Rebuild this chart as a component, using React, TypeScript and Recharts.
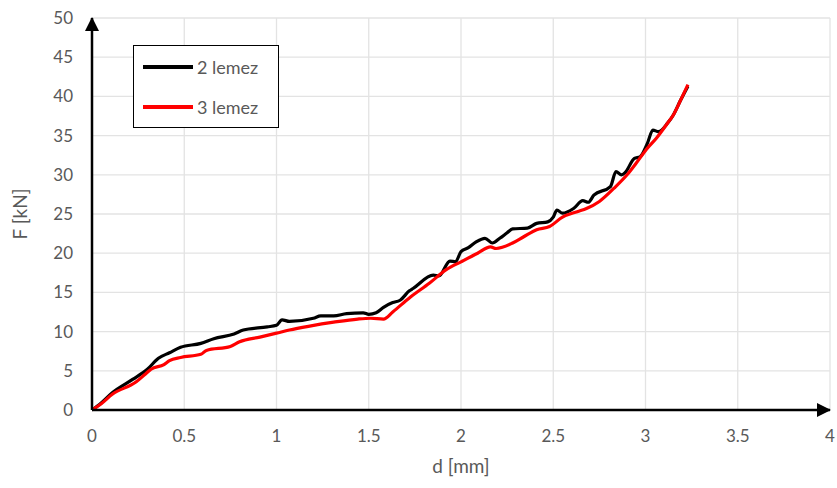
import React from 'react';
import {
  LineChart,
  Line,
  XAxis,
  YAxis,
  CartesianGrid,
  Label,
} from 'recharts';

// 2 lemez
const dispTwo = [0, 0.05, 0.11, 0.22, 0.3, 0.36, 0.42, 0.48, 0.59, 0.66, 0.77, 0.82, 0.95, 1.0, 1.03, 1.07, 1.2, 1.24, 1.31, 1.38, 1.47, 1.5, 1.54, 1.58, 1.63, 1.67, 1.72, 1.74, 1.85, 1.88, 1.94, 1.97, 2.0, 2.04, 2.08, 2.13, 2.17, 2.21, 2.25, 2.28, 2.36, 2.41, 2.47, 2.5, 2.52, 2.55, 2.61, 2.66, 2.69, 2.72, 2.81, 2.84, 2.87, 2.89, 2.94, 2.97, 3.01, 3.04, 3.07, 3.12, 3.15, 3.19, 3.23];
const forceTwo = [0, 0.9, 2.2, 3.9, 5.2, 6.6, 7.3, 8.0, 8.5, 9.1, 9.7, 10.2, 10.6, 10.8, 11.5, 11.3, 11.7, 12.0, 12.0, 12.3, 12.4, 12.2, 12.4, 13.1, 13.7, 14.0, 15.2, 15.5, 17.2, 17.1, 19.0, 18.9, 20.2, 20.7, 21.4, 21.9, 21.3, 21.9, 22.6, 23.1, 23.2, 23.8, 24.0, 24.6, 25.5, 25.1, 25.7, 26.7, 26.5, 27.4, 28.5, 30.4, 30.0, 30.3, 32.1, 32.3, 34.0, 35.7, 35.5, 36.6, 37.6, 39.5, 41.3];

// 3 lemez
const dispThree = [0, 0.05, 0.11, 0.24, 0.29, 0.32, 0.39, 0.42, 0.48, 0.59, 0.62, 0.75, 0.8, 0.91, 1.0, 1.07, 1.18, 1.31, 1.44, 1.51, 1.58, 1.63, 1.72, 1.83, 1.92, 2.0, 2.09, 2.16, 2.19, 2.28, 2.34, 2.41, 2.48, 2.55, 2.63, 2.68, 2.75, 2.83, 2.9, 2.95, 3.01, 3.06, 3.12, 3.15, 3.19, 3.23];
const forceThree = [0, 0.8, 2.0, 3.6, 4.6, 5.2, 5.8, 6.3, 6.7, 7.1, 7.6, 8.1, 8.7, 9.3, 9.8, 10.2, 10.7, 11.2, 11.6, 11.7, 11.6, 12.5, 14.3, 16.2, 17.9, 18.9, 20.0, 20.8, 20.6, 21.3, 22.1, 23.0, 23.4, 24.6, 25.3, 25.7, 26.6, 28.3, 30.0, 31.5, 33.4, 34.7, 36.6, 37.6, 39.5, 41.5];

const xTicks = [0, 0.5, 1, 1.5, 2, 2.5, 3, 3.5, 4];
const yTicks = [0, 5, 10, 15, 20, 25, 30, 35, 40, 45, 50];

const seriesNames = ['2 lemez', '3 lemez'];
const seriesColors = ['#000000', '#ff0000'];

const twoData = dispTwo.map((d, i) => ({ d, f: forceTwo[i] }));
const threeData = dispThree.map((d, i) => ({ d, f: forceThree[i] }));

const FONT = 'Lato, "Open Sans", sans-serif';
const GRAY = '#595959';

const LegendBox = () => (
  <div
    style={{
      position: 'absolute',
      left: 133,
      top: 45,
      width: 146,
      height: 83,
      border: '1.5px solid #000',
      background: '#fff',
      boxSizing: 'border-box',
      fontFamily: FONT,
      fontSize: 18,
      color: GRAY,
      paddingTop: 10,
    }}
  >
    {seriesNames.map((name, i) => (
      <div key={name} style={{ display: 'flex', alignItems: 'center', height: 22, marginBottom: i === 0 ? 18 : 0 }}>
        <div style={{ width: 50, height: 4, background: seriesColors[i], marginLeft: 9, marginRight: 4 }} />
        <span>{name}</span>
      </div>
    ))}
  </div>
);

export default function App() {
  return (
    <div style={{ position: 'absolute', left: 0, top: 0, width: 837, height: 488, background: '#fff', overflow: 'hidden' }}>
      <LineChart width={850} height={488} margin={{ top: 18, right: 20, bottom: 0, left: 32 }}>
        <defs>
          <marker id="arrowHead" markerWidth="14" markerHeight="14" refX="13" refY="7" orient="auto-start-reverse" markerUnits="userSpaceOnUse">
            <path d="M0,0 L14,7 L0,14 Z" fill="#000" />
          </marker>
        </defs>
        <CartesianGrid stroke="#e3e3e3" strokeWidth={1.3} />
        <XAxis
          type="number"
          dataKey="d"
          domain={[0, 4]}
          ticks={xTicks}
          height={78}
          tickLine={false}
          tickSize={0}
          tickMargin={20}
          axisLine={{ stroke: '#000', strokeWidth: 2.5, markerEnd: 'url(#arrowHead)' }}
          tick={{ fill: GRAY, fontSize: 17, fontFamily: FONT }}
          allowDuplicatedCategory={false}
        >
          <Label value="d [mm]" position="insideBottom" offset={15} style={{ fill: GRAY, fontSize: 19, fontFamily: FONT }} />
        </XAxis>
        <YAxis
          type="number"
          domain={[0, 50]}
          ticks={yTicks}
          width={60}
          tickLine={false}
          tickSize={0}
          tickMargin={19}
          axisLine={{ stroke: '#000', strokeWidth: 2.5, markerStart: 'url(#arrowHead)' }}
          tick={{ fill: GRAY, fontSize: 17, fontFamily: FONT }}
        >
          <Label value="F [kN]" angle={-90} position="insideLeft" offset={-12} style={{ fill: GRAY, fontSize: 19, fontFamily: FONT, textAnchor: 'middle' }} />
        </YAxis>
        <Line
          data={twoData}
          dataKey="f"
          name={seriesNames[0]}
          type="monotone"
          stroke={seriesColors[0]}
          strokeWidth={3.2}
          dot={false}
          isAnimationActive={false}
        />
        <Line
          data={threeData}
          dataKey="f"
          name={seriesNames[1]}
          type="monotone"
          stroke={seriesColors[1]}
          strokeWidth={3.2}
          dot={false}
          isAnimationActive={false}
        />
      </LineChart>
      <LegendBox />
    </div>
  );
}
